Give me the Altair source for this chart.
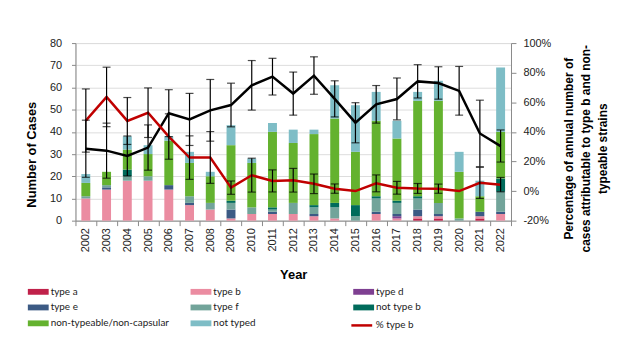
import altair as alt
import pandas as pd

years = ["2002", "2003", "2004", "2005", "2006", "2007", "2008", "2009", "2010", "2011", "2012",
         "2013", "2014", "2015", "2016", "2017", "2018", "2019", "2020", "2021", "2022"]

# case counts by serotype (stacked bars)
type_a =      [0, 0, 0, 0, 0, 0, 0, 0, 0, 0, 0, 0, 0, 0, 0, 0, 1, 1, 0, 1, 0]
type_b =      [10, 14, 18, 18, 14, 7, 5, 1, 3, 3, 3, 2, 1, 0, 3, 1, 1, 1, 0, 1, 3]
type_d =      [0, 0, 0, 0, 0, 0, 0, 0, 0, 0, 0, 0, 0, 0, 0, 1, 0, 0, 0, 0, 0]
type_e =      [0, 1, 0, 0, 2, 1, 0, 4, 0, 1, 0, 1, 0, 0, 1, 1, 3, 1, 0, 2, 1]
type_f =      [1, 1, 2, 2, 0, 3, 3, 3, 3, 1, 5, 3, 5, 2, 6, 5, 5, 5, 1, 0, 9]
not_type_b =  [0, 0, 3, 0, 0, 0, 0, 1, 0, 1, 0, 1, 2, 5, 1, 1, 1, 0, 0, 0, 6]
non_typeable = [6, 6, 9, 10, 20, 15, 12, 25, 20, 34, 27, 32, 38, 24, 34, 28, 43, 46, 21, 7, 21]
not_typed =   [4, 0, 6, 4, 2, 5, 2, 9, 2, 4, 6, 2, 15, 21, 13, 8, 4, 9, 9, 7, 29]

# percentage lines (right axis) and their error bars
pct_type_b = [47.6, 63.6, 47.4, 52.9, 36.8, 22.6, 22.7, 2.3, 10.7, 6.8, 7.3, 4.9, 1.6, 0.0,
              5.2, 2.2, 1.7, 1.6, 0.0, 5.6, 4.3]
type_b_low = [26.3, 43.5, 31.5, 36.2, 21.5, 7.9, 5.2, -2.2, -0.7, -0.6, -0.7, -1.7, -1.5, None,
              -0.5, -2.1, -1.6, -1.5, None, -5.0, -0.5]
type_b_high = [69.0, 83.7, 63.2, 69.7, 52.2, 37.3, 40.2, 6.8, 22.2, 14.3, 15.3, 11.5, 4.8, None,
               10.9, 6.5, 5.1, 4.7, None, 16.1, 9.2]
pct_nthi = [28.6, 27.3, 23.7, 29.4, 52.6, 48.4, 54.5, 58.1, 71.4, 77.3, 65.9, 78.0, 62.3, 46.2,
            58.6, 62.2, 74.1, 73.0, 67.7, 38.9, 30.4]
nthi_low = [9.3, 8.7, 10.2, 14.1, 36.8, 30.8, 33.7, 43.4, 54.7, 64.9, 51.3, 65.4, 50.1, 32.6,
            45.9, 48.1, 62.9, 62.1, 51.3, 16.4, 19.6]
nthi_high = [47.9, 45.9, 37.2, 44.7, 68.5, 66.0, 75.4, 72.9, 88.2, 89.7, 80.4, 90.7, 74.5, 59.7,
             71.3, 76.4, 85.4, 84.0, 84.2, 61.4, 41.3]

categories = ["type a", "type b", "type d", "type e", "type f", "not type b",
              "non-typeable/non-capsular", "not typed"]
series = [type_a, type_b, type_d, type_e, type_f, not_type_b, non_typeable, not_typed]
colors = ["#C0214A", "#EB8CA1", "#7E3F91", "#3C5A84", "#72A49A", "#006B5B",
          "#64B22F", "#7EBDC6"]
line_label = "% type b"
line_color = "#C00000"

rows = []
for k, (cat, vals) in enumerate(zip(categories, series)):
    for yr, v in zip(years, vals):
        rows.append({"year": yr, "serotype": cat, "cases": v, "stack": k})
bars_df = pd.DataFrame(rows)

pct_df = pd.DataFrame({
    "year": years,
    "pct_b": pct_type_b, "b_low": type_b_low, "b_high": type_b_high,
    "pct_n": pct_nthi, "n_low": nthi_low, "n_high": nthi_high,
    "series": [line_label] * len(years),
})

FONT = "Lato"
AX = "#898989"

x_enc = alt.X(
    "year:N", sort=years,
    scale=alt.Scale(paddingInner=0, paddingOuter=0),
    axis=alt.Axis(title="Year", labelAngle=270, labelAlign="right", labelBaseline="middle",
                  tickBand="extent", tickSize=5, labelPadding=2, labelFontSize=11,
                  labelColor="#222222", domainColor=AX, tickColor=AX,
                  titleFontSize=13, titleFontWeight="bold", titleY=54,
                  titleBaseline="middle", titleColor="black"),
)

left_axis = alt.Axis(values=list(range(0, 81, 10)), title="Number of Cases",
                     tickSize=4, labelPadding=10, labelFontSize=11, labelColor="#222222",
                     domainColor=AX, tickColor=AX, titleFontSize=13,
                     titleFontWeight="bold", titleColor="black", titleAngle=270,
                     titleX=-44, titleY=112, titleAlign="center", titleBaseline="middle")

right_title = ["Percentage of annual number of", "cases attributable to type b and non-",
               "typeable strains"]
right_axis = alt.Axis(orient="right", values=[-20, 0, 20, 40, 60, 80, 100],
                      labelExpr="datum.value + '%'", tickSize=5, labelPadding=7,
                      labelFontSize=11, labelColor="#222222", domainColor=AX, tickColor=AX,
                      title=right_title, titleFontSize=12, titleFontWeight="bold",
                      titleColor="black", titleAngle=270, titleAlign="center",
                      titleBaseline="middle", titleX=58, titleY=106, titleLineHeight=17)

pct_scale = alt.Scale(domain=[-20, 100], nice=False)


def y_pct(field):
    return alt.Y(field + ":Q", scale=pct_scale, axis=right_axis)


LEG_X, LEG_Y, COL_STEP, ROW_STEP = -48, 240, 162.3, 16.3

bar_legend = alt.Legend(
    title=None, orient="none", direction="horizontal", legendX=LEG_X, legendY=LEG_Y,
    columns=3, gridAlign="all",
    columnPadding=21, rowPadding=ROW_STEP - 21, symbolSize=441, labelOffset=2,
    symbolType="M-1,-0.28H1V0.28H-1Z", symbolStrokeWidth=0,
    labelFont=FONT, labelFontSize=10, labelColor="#222222", padding=0, labelLimit=300,
)
line_legend = alt.Legend(
    title=None, orient="none", legendX=LEG_X + 2 * COL_STEP, legendY=LEG_Y + 2 * ROW_STEP,
    symbolSize=441, labelOffset=2, symbolType="stroke", symbolStrokeWidth=2.5,
    labelFont=FONT, labelFontSize=10, labelColor="#222222", padding=0,
)

bars = alt.Chart(bars_df).mark_bar(size=9).encode(
    x=x_enc,
    y=alt.Y("cases:Q", stack="zero", scale=alt.Scale(domain=[0, 80], nice=False), axis=left_axis),
    color=alt.Color("serotype:N", scale=alt.Scale(domain=categories, range=colors),
                    legend=bar_legend),
    order=alt.Order("stack:Q", sort="ascending"),
)

base = alt.Chart(pct_df)
line_n = base.mark_line(color="black", strokeWidth=2.5).encode(x=x_enc, y=y_pct("pct_n"))
line_b = base.mark_line(strokeWidth=2.5).encode(
    x=x_enc, y=y_pct("pct_b"),
    stroke=alt.Stroke("series:N", scale=alt.Scale(domain=[line_label], range=[line_color]),
                      legend=line_legend),
)
rule_n = base.mark_rule(color="black", strokeWidth=1.2).encode(x=x_enc, y=y_pct("n_low"), y2="n_high:Q")
rule_b = base.mark_rule(color="black", strokeWidth=1.2).encode(x=x_enc, y=y_pct("b_low"), y2="b_high:Q")
cap_n_lo = base.mark_tick(color="black", size=8, thickness=1.2).encode(x=x_enc, y=y_pct("n_low"))
cap_n_hi = base.mark_tick(color="black", size=8, thickness=1.2).encode(x=x_enc, y=y_pct("n_high"))
cap_b_lo = base.mark_tick(color="black", size=8, thickness=1.2).encode(x=x_enc, y=y_pct("b_low"))
cap_b_hi = base.mark_tick(color="black", size=8, thickness=1.2).encode(x=x_enc, y=y_pct("b_high"))

pct_layer = alt.layer(line_n, line_b, rule_n, rule_b, cap_n_lo, cap_n_hi, cap_b_lo, cap_b_hi)

chart = alt.layer(bars, pct_layer).resolve_scale(y="independent").properties(
    width=439, height=179,
    padding={"left": 68, "top": 34, "right": 125, "bottom": 125},
    autosize="none",
).configure_axis(
    grid=False, labelFont=FONT, titleFont=FONT,
).configure_view(stroke=None).configure(background="white")

chart.save("out.html", embed_options={"renderer": "svg", "actions": False})
